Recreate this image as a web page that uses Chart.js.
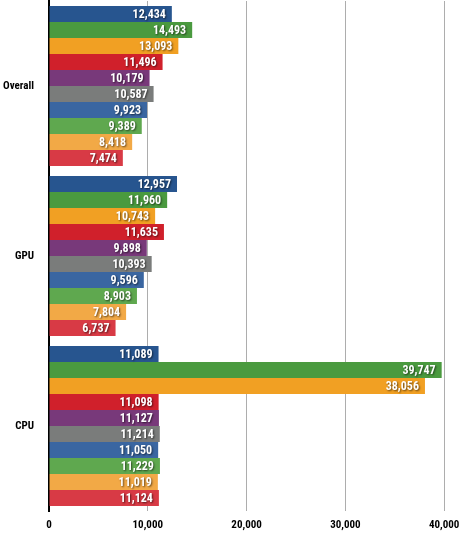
<!DOCTYPE html>
<html>
<head>
<meta charset="utf-8">
<script src="https://cdn.jsdelivr.net/npm/chart.js@4/dist/chart.umd.min.js"></script>
<style>
  html, body { margin: 0; padding: 0; background: #fff; }
  #wrap { width: 460px; height: 533px; }
</style>
</head>
<body>
<div id="wrap"><canvas id="grafico"></canvas></div>
<script>
// categorias y valores
const categorias = ['Overall', 'GPU', 'CPU'];
const series = ['Serie 1', 'Serie 2', 'Serie 3', 'Serie 4', 'Serie 5', 'Serie 6', 'Serie 7', 'Serie 8', 'Serie 9', 'Serie 10'];
const serie1 = [12434, 12957, 11089];
const serie2 = [14493, 11960, 39747];
const serie3 = [13093, 10743, 38056];
const serie4 = [11496, 11635, 11098];
const serie5 = [10179, 9898, 11127];
const serie6 = [10587, 10393, 11214];
const serie7 = [9923, 9596, 11050];
const serie8 = [9389, 8903, 11229];
const serie9 = [8418, 7804, 11019];
const serie10 = [7474, 6737, 11124];
const ticksX = [0, 10000, 20000, 30000, 40000];

const valores = [serie1, serie2, serie3, serie4, serie5, serie6, serie7, serie8, serie9, serie10];
const colores = ['#27558f', '#4a9a3f', '#f1a023', '#d0202b', '#78397a', '#7a7c7b',
                 '#3a66a1', '#5fa84f', '#f2a946', '#d83a45'];

const fuente = "'Roboto Condensed', 'Liberation Sans', Arial, sans-serif";

// etiquetas blancas dentro de cada barra
const etiquetas = {
    id: 'etiquetas',
    afterDatasetsDraw(chart) {
        const ctx = chart.ctx;
        ctx.save();
        ctx.font = 'bold 12px ' + fuente;
        ctx.textAlign = 'right';
        ctx.textBaseline = 'middle';
        ctx.fillStyle = '#fff';
        ctx.shadowColor = 'rgba(0,0,0,0.6)';
        ctx.shadowBlur = 2;
        ctx.shadowOffsetX = 1;
        ctx.shadowOffsetY = 1;
        chart.data.datasets.forEach((ds, i) => {
            chart.getDatasetMeta(i).data.forEach((bar, j) => {
                ctx.fillText(ds.data[j].toLocaleString('en-US'), bar.x - 6, bar.y + 1);
            });
        });
        ctx.restore();
    }
};

new Chart(document.getElementById('grafico'), {
    type: 'bar',
    data: {
        labels: categorias,
        datasets: series.map((s, i) => ({
            label: s,
            data: valores[i],
            backgroundColor: colores[i],
            borderWidth: 0,
            categoryPercentage: 0.94,
            barPercentage: 1.0
        }))
    },
    options: {
        indexAxis: 'y',
        responsive: true,
        maintainAspectRatio: false,
        animation: false,
        layout: { padding: { top: 1, right: 2, left: 0, bottom: 0 } },
        plugins: {
            legend: { display: false },
            tooltip: { enabled: false }
        },
        scales: {
            x: {
                min: 0,
                max: 41400,
                afterBuildTicks: axis => { axis.ticks = ticksX.map(v => ({ value: v })); },
                afterFit: axis => {
                    axis.height = 22;
                    axis.paddingLeft = 0;
                    axis.paddingRight = 0;
                },
                grid: {
                    color: ctx => ctx.tick && ctx.tick.value === 0 ? 'rgba(0,0,0,0)' : '#adadad',
                    lineWidth: 1,
                    drawTicks: false
                },
                border: { display: false },
                ticks: {
                    color: '#000',
                    padding: 8,
                    maxRotation: 0,
                    font: { family: fuente, size: 11, weight: 'bold' },
                    callback: v => v.toLocaleString('en-US')
                }
            },
            y: {
                afterFit: axis => {
                    axis.width = 49;
                    axis.paddingTop = 0;
                    axis.paddingBottom = 0;
                },
                grid: { display: false, drawTicks: false },
                border: { display: true, color: '#000', width: 2 },
                ticks: {
                    color: '#000',
                    padding: 15,
                    font: { family: fuente, size: 11, weight: 'bold' }
                }
            }
        }
    },
    plugins: [etiquetas]
});
</script>
</body>
</html>
